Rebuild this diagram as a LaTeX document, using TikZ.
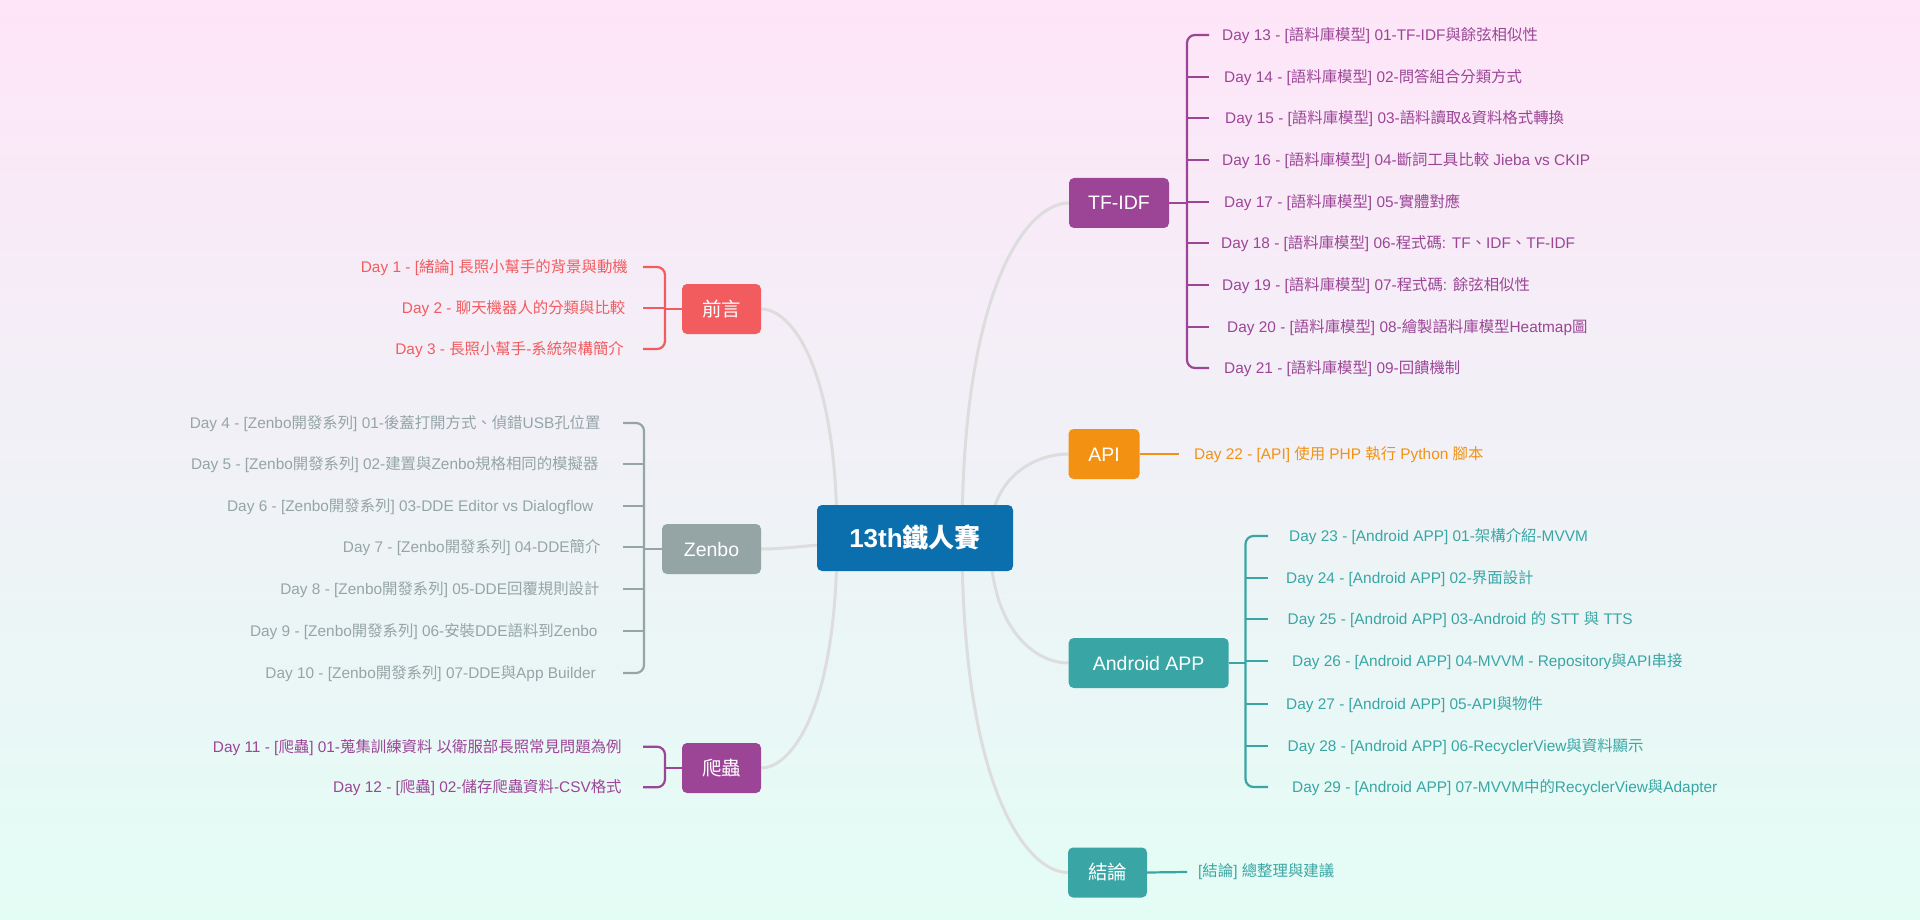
\documentclass[tikz,border=0pt]{standalone}
\usepackage{fontspec}
\setmainfont{Liberation Sans}
\newfontfamily\cjkf{Noto Sans CJK TC}
\XeTeXinterchartokenstate=1
\newXeTeXintercharclass\cjkcls
\newcount\mycnt
\mycnt="2E80
\loop\ifnum\mycnt<"A000 \XeTeXcharclass\mycnt=\cjkcls \advance\mycnt by 1 \repeat
\mycnt="FF00
\loop\ifnum\mycnt<"FFF0 \XeTeXcharclass\mycnt=\cjkcls \advance\mycnt by 1 \repeat
\mycnt=32
\loop\ifnum\mycnt<127 \XeTeXcharclass\mycnt=0 \advance\mycnt by 1 \repeat
\XeTeXinterchartoks 0 \cjkcls = {\cjkf}
\XeTeXinterchartoks 4095 \cjkcls = {\cjkf}
\XeTeXinterchartoks \cjkcls 0 = {\rmfamily}
\XeTeXinterchartoks \cjkcls 4095 = {\rmfamily}

\definecolor{cRed}{RGB}{242,92,95}
\definecolor{cGray}{RGB}{149,165,166}
\definecolor{cPurple}{RGB}{156,69,151}
\definecolor{cOrange}{RGB}{243,146,18}
\definecolor{cTeal}{RGB}{57,166,165}
\definecolor{cBlue}{RGB}{12,111,173}
\definecolor{cLink}{RGB}{221,221,221}
\definecolor{bgTop}{RGB}{254,229,248}
\definecolor{bgBot}{RGB}{227,253,245}

\pgfdeclarelayer{bg}
\pgfsetlayers{bg,main}

\tikzset{
  box/.style={rectangle, rounded corners=5pt, inner sep=0pt, text=white,
    font=\fontsize{19.5}{22}\selectfont, text height=14pt, text depth=0pt,
    minimum height=50pt},
  item/.style={inner sep=0pt, font=\fontsize{15.4}{18}\selectfont,
    text height=11pt, text depth=0pt},
  trunk/.style={draw=cLink, line width=3pt},
  brk/.style={line width=2.2pt, rounded corners=8pt},
}

\begin{document}
\begin{tikzpicture}[x=1pt, y=-1pt]
\useasboundingbox (0,0) rectangle (1920,920);
\begin{pgfonlayer}{bg}
\shade[top color=bgTop, bottom color=bgBot] (0,0) rectangle (1920,920);
\end{pgfonlayer}

% ---------- main nodes ----------
\node[box, fill=cBlue, minimum width=196pt, minimum height=66pt,
      font=\bfseries\fontsize{26}{30}\selectfont, text height=18.6pt] (root) at (915,538) {13th鐵人賽};
\node[box, fill=cPurple, minimum width=100pt] (tfidf) at (1119,203) {TF-IDF};
\node[box, fill=cOrange, minimum width=71pt] (api) at (1104,454) {API};
\node[box, fill=cTeal, minimum width=160pt] (android) at (1148.7,663) {Android APP};
\node[box, fill=cTeal, minimum width=79pt] (concl) at (1107.5,872.5) {結論};
\node[box, fill=cRed, minimum width=79pt] (intro) at (721.5,309) {前言};
\node[box, fill=cGray, minimum width=99pt] (zenbo) at (711.5,549) {Zenbo};
\node[box, fill=cPurple, minimum width=79pt] (crawl) at (721.5,768) {爬蟲};

% ---------- trunk curves ----------
\coordinate (sA) at (962,538);
\coordinate (sB) at (990,538);
\coordinate (sC) at (837,538);
\begin{pgfonlayer}{bg}
\draw[trunk] (sA) .. controls (962,287) and (1027,203) .. (tfidf.west);
\draw[trunk] (sA) .. controls (962,789) and (1027,872.5) .. (concl.west);
\draw[trunk] (sB) .. controls (990,475) and (1037,454) .. (api.west);
\draw[trunk] (sB) .. controls (990,632) and (1037,663) .. (android.west);
\draw[trunk] (sC) .. controls (837,366) and (791,309) .. (intro.east);
\draw[trunk] (sC) .. controls (837,710) and (791,768) .. (crawl.east);
\draw[trunk] (root.center) .. controls (800,545) and (790,549) .. (zenbo.east);
\end{pgfonlayer}

% ---------- 前言 ----------
\begin{scope}[cRed]
\node[item, text=cRed, anchor=east] (p1) at (628,267) {Day 1 - [緒論] 長照小幫手的背景與動機};
\node[item, text=cRed, anchor=east] (p2) at (625.5,308) {Day 2 - 聊天機器人的分類與比較};
\node[item, text=cRed, anchor=east] (p3) at (624,349) {Day 3 - 長照小幫手-系統架構簡介};
\coordinate (ibx) at (665,0);
\coordinate (ibe) at (643,0);
\draw[brk] (intro.west) -- (intro.west -| ibx);
\draw[brk] (p1.east -| ibe) -- (p1.east -| ibx) -- (p3.east -| ibx) -- (p3.east -| ibe);
\draw[brk] (p2.east -| ibx) -- (p2.east -| ibe);
\end{scope}

% ---------- Zenbo ----------
\begin{scope}[cGray]
\node[item, text=cGray, anchor=east] (z4) at (600.7,423) {Day 4 - [Zenbo開發系列] 01-後蓋打開方式、偵錯USB孔位置};
\node[item, text=cGray, anchor=east] (z5) at (598.6,464) {Day 5 - [Zenbo開發系列] 02-建置與Zenbo規格相同的模擬器};
\node[item, text=cGray, anchor=east] (z6) at (593.6,506) {Day 6 - [Zenbo開發系列] 03-DDE Editor vs Dialogflow};
\node[item, text=cGray, anchor=east] (z7) at (600.7,547) {Day 7 - [Zenbo開發系列] 04-DDE簡介};
\node[item, text=cGray, anchor=east] (z8) at (599.7,589) {Day 8 - [Zenbo開發系列] 05-DDE回覆規則設計};
\node[item, text=cGray, anchor=east] (z9) at (597.7,631) {Day 9 - [Zenbo開發系列] 06-安裝DDE語料到Zenbo};
\node[item, text=cGray, anchor=east] (z10) at (596,673) {Day 10 - [Zenbo開發系列] 07-DDE與App Builder};
\coordinate (zbx) at (644,0);
\coordinate (zbe) at (623,0);
\draw[brk] (zenbo.west) -- (zenbo.west -| zbx);
\draw[brk] (z4.east -| zbe) -- (z4.east -| zbx) -- (z10.east -| zbx) -- (z10.east -| zbe);
\foreach \n in {z5,z6,z7,z8,z9} \draw[brk] (\n.east -| zbx) -- (\n.east -| zbe);
\end{scope}

% ---------- 爬蟲 ----------
\begin{scope}[cPurple]
\node[item, text=cPurple, anchor=east] (k11) at (621.8,746.7) {Day 11 - [爬蟲] 01-蒐集訓練資料 以衛服部長照常見問題為例};
\node[item, text=cPurple, anchor=east] (k12) at (621.8,787.3) {Day 12 - [爬蟲] 02-儲存爬蟲資料-CSV格式};
\coordinate (kbx) at (665,0);
\coordinate (kbe) at (643,0);
\draw[brk] (crawl.west) -- (crawl.west -| kbx);
\draw[brk] (k11.east -| kbe) -- (k11.east -| kbx) -- (k12.east -| kbx) -- (k12.east -| kbe);
\end{scope}

% ---------- TF-IDF ----------
\begin{scope}[cPurple]
\node[item, text=cPurple, anchor=west] (t13) at (1222,35) {Day 13 - [語料庫模型] 01-TF-IDF與餘弦相似性};
\node[item, text=cPurple, anchor=west] (t14) at (1224,77) {Day 14 - [語料庫模型] 02-問答組合分類方式};
\node[item, text=cPurple, anchor=west] (t15) at (1225,118) {Day 15 - [語料庫模型] 03-語料讀取\&資料格式轉換};
\node[item, text=cPurple, anchor=west] (t16) at (1222,160) {Day 16 - [語料庫模型] 04-斷詞工具比較 Jieba vs CKIP};
\node[item, text=cPurple, anchor=west] (t17) at (1224,202) {Day 17 - [語料庫模型] 05-實體對應};
\node[item, text=cPurple, anchor=west] (t18) at (1221,243) {Day 18 - [語料庫模型] 06-程式碼: TF、IDF、TF-IDF};
\node[item, text=cPurple, anchor=west] (t19) at (1222,285) {Day 19 - [語料庫模型] 07-程式碼: 餘弦相似性};
\node[item, text=cPurple, anchor=west] (t20) at (1227,327) {Day 20 - [語料庫模型] 08-繪製語料庫模型Heatmap圖};
\node[item, text=cPurple, anchor=west] (t21) at (1224,368) {Day 21 - [語料庫模型] 09-回饋機制};
\coordinate (tbx) at (1187,0);
\coordinate (tbe) at (1209,0);
\draw[brk] (tfidf.east) -- (tfidf.east -| tbx);
\draw[brk] (t13.west -| tbe) -- (t13.west -| tbx) -- (t21.west -| tbx) -- (t21.west -| tbe);
\foreach \n in {t14,t15,t16,t17,t18,t19,t20} \draw[brk] (\n.west -| tbx) -- (\n.west -| tbe);
\end{scope}

% ---------- API ----------
\begin{scope}[cOrange]
\node[item, text=cOrange, anchor=west] (a22) at (1194,454) {Day 22 - [API] 使用 PHP 執行 Python 腳本};
\coordinate (abe) at (1179,454);
\draw[brk] (api.east) -- (abe);
\end{scope}

% ---------- Android APP ----------
\begin{scope}[cTeal]
\node[item, text=cTeal, anchor=west] (d23) at (1289,536) {Day 23 - [Android APP] 01-架構介紹-MVVM};
\node[item, text=cTeal, anchor=west] (d24) at (1286,578) {Day 24 - [Android APP] 02-界面設計};
\node[item, text=cTeal, anchor=west] (d25) at (1287.5,619) {Day 25 - [Android APP] 03-Android 的 STT 與 TTS};
\node[item, text=cTeal, anchor=west] (d26) at (1292,661) {Day 26 - [Android APP] 04-MVVM - Repository與API串接};
\node[item, text=cTeal, anchor=west] (d27) at (1286,704) {Day 27 - [Android APP] 05-API與物件};
\node[item, text=cTeal, anchor=west] (d28) at (1287.5,746) {Day 28 - [Android APP] 06-RecyclerView與資料顯示};
\node[item, text=cTeal, anchor=west] (d29) at (1292,787) {Day 29 - [Android APP] 07-MVVM中的RecyclerView與Adapter};
\coordinate (dbx) at (1245.5,0);
\coordinate (dbe) at (1268,0);
\draw[brk] (android.east) -- (android.east -| dbx);
\draw[brk] (d23.west -| dbe) -- (d23.west -| dbx) -- (d29.west -| dbx) -- (d29.west -| dbe);
\foreach \n in {d24,d25,d26,d27,d28} \draw[brk] (\n.west -| dbx) -- (\n.west -| dbe);
\end{scope}

% ---------- 結論 ----------
\begin{scope}[cTeal]
\node[item, text=cTeal, anchor=west] (e1) at (1198,871) {[結論] 總整理與建議};
\coordinate (ebe) at (1187,872);
\draw[brk] (concl.east) -- (ebe);
\end{scope}
\end{tikzpicture}
\end{document}
